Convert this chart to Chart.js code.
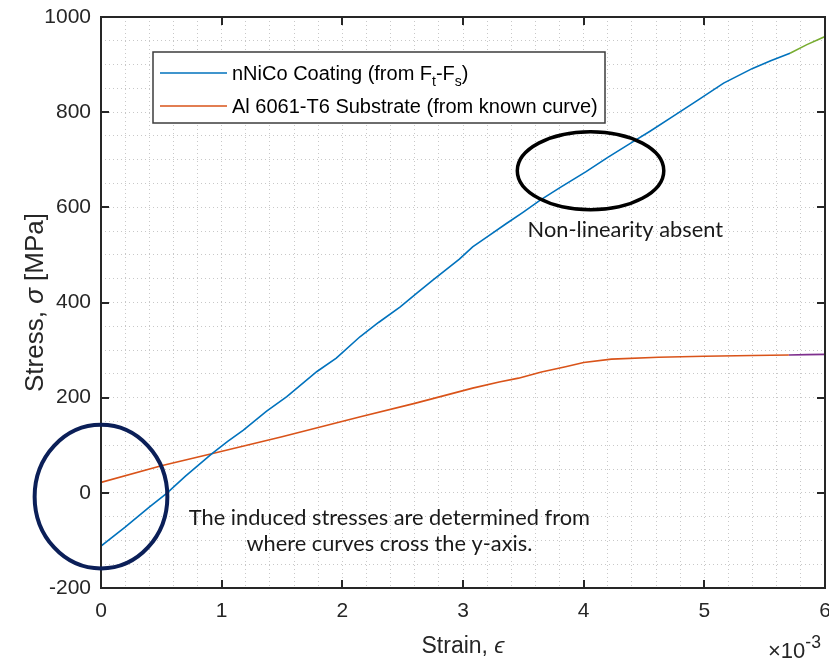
<!DOCTYPE html>
<html>
<head>
<meta charset="utf-8">
<script src="https://cdn.jsdelivr.net/npm/chart.js@4.4.1/dist/chart.umd.min.js"></script>
<style>
  html, body { margin: 0; padding: 0; background: #fff; }
  #wrap { position: relative; width: 829px; height: 661px; }
</style>
</head>
<body>
<div id="wrap"><canvas id="stressChart" width="829" height="661"></canvas></div>
<script>
// strain is kept in units of 1e-3 (the axis carries the x10^-3 multiplier)
const coatingStrain = [0, 0.2, 0.4, 0.544, 0.7, 0.917, 1.05, 1.18, 1.37, 1.54, 1.79, 1.95, 2.146, 2.3, 2.48, 2.62, 2.75, 2.97,
  3.08, 3.2, 3.36, 3.5, 3.64, 3.8, 4.02, 4.2, 4.41, 4.55, 4.74, 4.95, 5.16, 5.4, 5.55, 5.71];
const coatingStress = [-112, -72, -30, -1, 35, 82, 108, 132, 171, 202, 255, 283, 328, 358, 391, 420, 447, 491,
  517, 538, 566, 590, 615, 641, 675, 705, 738, 760, 791, 826, 861, 892, 908, 924];
const coatingTailStrain = [5.71, 5.85, 6.0];
const coatingTailStress = [924, 942, 959];

const substrateStrain = [0, 0.5, 0.917, 1.5, 2.15, 2.6, 3.08, 3.3, 3.46, 3.65, 3.85, 4.0, 4.23, 4.62, 5.0, 5.4, 5.7];
const substrateStress = [22, 57, 82, 118, 160, 188, 220, 233, 241, 254, 265, 274, 281, 285, 287, 288.5, 289.7];
const substrateTailStrain = [5.7, 5.85, 6.0];
const substrateTailStress = [289.7, 290.5, 291];

const xTicks = [0, 1, 2, 3, 4, 5, 6];
const yTicks = [-200, 0, 200, 400, 600, 800, 1000];

const BLUE = '#0072BD', ORANGE = '#D95319', GREEN = '#77AC30', PURPLE = '#7E2F8E';
const AXIS = '#262626';
const FAM = '"Liberation Sans", Arial, sans-serif';

function pts(xs, ys) { return xs.map((x, i) => ({ x, y: ys[i] })); }
function series(xs, ys, color) {
  return { data: pts(xs, ys), borderColor: color, borderWidth: 1.6, pointRadius: 0, tension: 0, fill: false };
}

// draw a string made of runs, some of them sub/superscript
function drawRuns(ctx, runs, x, y, size, family, small = 0.7) {
  runs.forEach(r => {
    const s = r.sub || r.sup ? size * small : size;
    ctx.font = (r.italic ? 'italic ' : '') + s + 'px ' + family;
    const dy = r.sub ? size * 0.32 : r.sup ? -size * 0.45 : 0;
    ctx.fillText(r.t, x, y + dy);
    x += ctx.measureText(r.t).width;
  });
  return x;
}
function runsWidth(ctx, runs, size, family, small = 0.7) {
  let w = 0;
  runs.forEach(r => {
    const s = r.sub || r.sup ? size * small : size;
    ctx.font = (r.italic ? 'italic ' : '') + s + 'px ' + family;
    w += ctx.measureText(r.t).width;
  });
  return w;
}

const isInt = v => Math.abs(v - Math.round(v)) < 1e-6;

const decorations = {
  id: 'decorations',
  afterDatasetsDraw(chart) {
    const { ctx, chartArea: a, scales: { x, y } } = chart;
    ctx.save();
    // inward tick marks + box
    ctx.strokeStyle = AXIS;
    ctx.lineWidth = 2;
    ctx.beginPath();
    xTicks.forEach(v => {
      const px = Math.round(x.getPixelForValue(v));
      ctx.moveTo(px, a.bottom); ctx.lineTo(px, a.bottom - 8);
      ctx.moveTo(px, a.top); ctx.lineTo(px, a.top + 8);
    });
    yTicks.forEach(v => {
      const py = Math.round(y.getPixelForValue(v));
      ctx.moveTo(a.left, py); ctx.lineTo(a.left + 8, py);
      ctx.moveTo(a.right, py); ctx.lineTo(a.right - 8, py);
    });
    ctx.stroke();
    ctx.strokeRect(a.left, a.top, a.right - a.left, a.bottom - a.top);

    // legend
    const lx = 153, ly = 52, lw = 452, lh = 71;
    ctx.fillStyle = '#fff';
    ctx.fillRect(lx, ly, lw, lh);
    ctx.strokeStyle = '#3c3c3c';
    ctx.lineWidth = 1.5;
    ctx.strokeRect(lx, ly, lw, lh);
    [[BLUE, 73, [{ t: 'nNiCo Coating (from F' }, { t: 't', sub: true }, { t: '-F' }, { t: 's', sub: true }, { t: ')' }]],
     [ORANGE, 106, [{ t: 'Al 6061-T6 Substrate (from known curve)' }]]].forEach(([c, yy, runs]) => {
      ctx.strokeStyle = c;
      ctx.lineWidth = 1.6;
      ctx.beginPath(); ctx.moveTo(160, yy); ctx.lineTo(227, yy); ctx.stroke();
      ctx.fillStyle = '#000';
      ctx.textBaseline = 'alphabetic';
      drawRuns(ctx, runs, 232, yy + 7, 20, FAM);
    });

    // annotation ellipses, placed in data coordinates
    const ell = (cx, cy, rxv, ryv, color, w) => {
      const px = x.getPixelForValue(cx), py = y.getPixelForValue(cy);
      const rx = x.getPixelForValue(cx + rxv) - px, ry = py - y.getPixelForValue(cy + ryv);
      ctx.strokeStyle = color; ctx.lineWidth = w;
      ctx.beginPath(); ctx.ellipse(px, py, rx, ry, 0, 0, Math.PI * 2); ctx.stroke();
    };
    ell(0, -8, 0.55, 151, '#0B1F58', 4);
    ell(4.057, 677, 0.607, 82, '#000', 3.5);

    // annotation text
    ctx.fillStyle = '#1a1a1a';
    ctx.textAlign = 'center';
    ctx.textBaseline = 'middle';
    ctx.font = '21.8px Lato, "Open Sans", sans-serif';
    ctx.fillText('Non-linearity absent', x.getPixelForValue(4.345), y.getPixelForValue(552));
    ctx.fillText('The induced stresses are determined from', x.getPixelForValue(2.39), y.getPixelForValue(-53));
    ctx.fillText('where curves cross the y-axis.', x.getPixelForValue(2.39), y.getPixelForValue(-107));

    // axis titles
    ctx.fillStyle = AXIS;
    ctx.textAlign = 'left';
    ctx.textBaseline = 'alphabetic';
    const xt = [{ t: 'Strain, ' }, { t: 'ϵ', italic: true }];
    const xw = runsWidth(ctx, xt, 23, FAM);
    drawRuns(ctx, xt, (a.left + a.right) / 2 - xw / 2, 653, 23, FAM);

    const yt = [{ t: 'Stress, ' }, { t: 'σ', italic: true }, { t: ' [MPa]' }];
    const yw = runsWidth(ctx, yt, 26, FAM);
    ctx.save();
    ctx.translate(43, (a.top + a.bottom) / 2);
    ctx.rotate(-Math.PI / 2);
    drawRuns(ctx, yt, -yw / 2, 0, 26, FAM);
    ctx.restore();

    // exponent label
    drawRuns(ctx, [{ t: '×10' }, { t: '-3', sup: true }], 768, 658, 22, FAM, 0.8);
    ctx.restore();
  }
};

new Chart(document.getElementById('stressChart'), {
  type: 'line',
  data: {
    datasets: [
      series(coatingStrain, coatingStress, BLUE),
      series(coatingTailStrain, coatingTailStress, GREEN),
      series(substrateStrain, substrateStress, ORANGE),
      series(substrateTailStrain, substrateTailStress, PURPLE)
    ]
  },
  options: {
    responsive: false,
    animation: false,
    layout: { padding: { left: 0, top: 17, right: 4, bottom: 0 } },
    plugins: { legend: { display: false }, tooltip: { enabled: false } },
    scales: {
      x: {
        type: 'linear',
        min: 0, max: 6,
        grid: { color: '#c8c8c8', lineWidth: 1, drawTicks: false },
        border: { display: false, dash: [1, 3] },
        ticks: {
          stepSize: 0.2, autoSkip: false, maxRotation: 0, padding: 11,
          color: AXIS, font: { family: FAM, size: 21 },
          callback: v => isInt(v) ? String(Math.round(v)) : ''
        },
        afterFit: s => { s.height = 73; s.paddingLeft = 0; s.paddingRight = 0; }
      },
      y: {
        type: 'linear',
        min: -200, max: 1000,
        grid: { color: '#c8c8c8', lineWidth: 1, drawTicks: false },
        border: { display: false, dash: [1, 3] },
        ticks: {
          stepSize: 50, autoSkip: false, padding: 10,
          color: AXIS, font: { family: FAM, size: 21 },
          callback: v => (Math.round(v) % 200 === 0) ? String(Math.round(v)) : ''
        },
        afterFit: s => { s.width = 101; s.paddingTop = 0; s.paddingBottom = 0; }
      }
    }
  },
  plugins: [decorations]
});
</script>
</body>
</html>
